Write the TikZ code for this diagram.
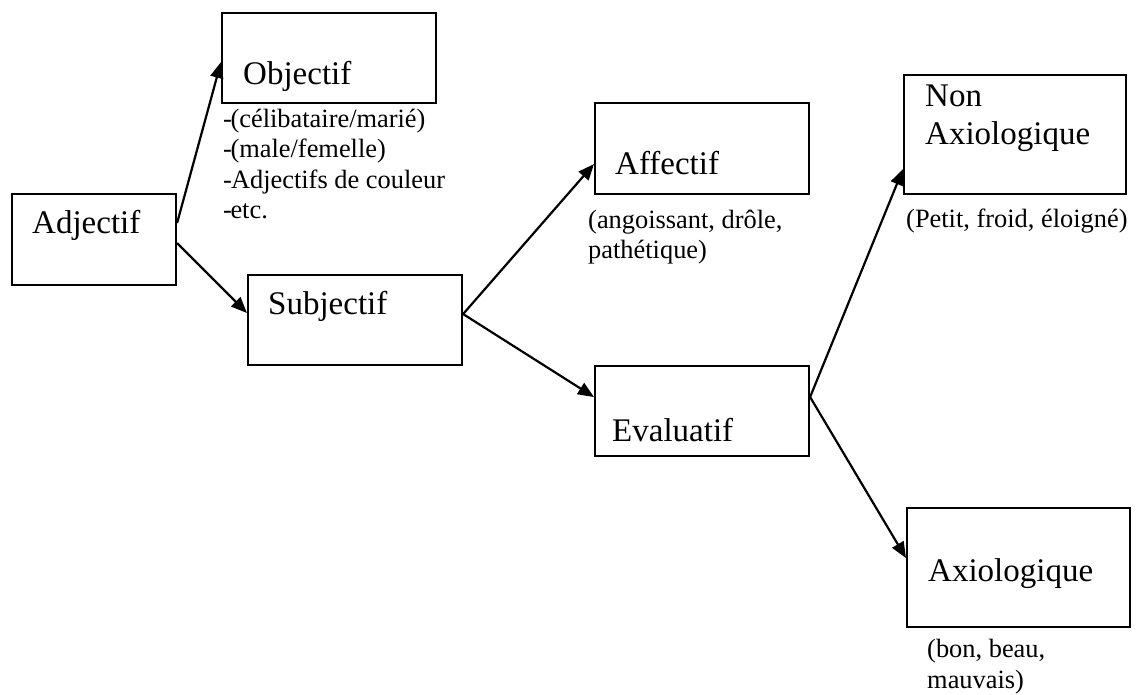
\documentclass[tikz,border=0pt]{standalone}
\usepackage{fontspec}
\setmainfont{Liberation Serif}
\usetikzlibrary{arrows.meta,calc}
\begin{document}
\begin{tikzpicture}[x=1pt,y=-1pt,
  box/.style={draw,line width=2.1pt,inner sep=0pt,anchor=north west},
  big/.style={inner sep=0pt,anchor=base west,font=\fontsize{33}{38}\selectfont,align=left},
  small/.style={inner sep=0pt,anchor=base west,font=\fontsize{26.4}{30}\selectfont,align=left},
  conn/.style={line width=2.2pt,-{Triangle[length=16pt,width=13pt]}}]
\useasboundingbox (0,0) rectangle (1139,695);
% boxes
\node[box,minimum width=164pt,minimum height=91pt] (adj) at (11,193) {};
\node[box,minimum width=214pt,minimum height=90pt] (obj) at (221,12) {};
\node[box,minimum width=214pt,minimum height=90pt] (subj) at (247,274) {};
\node[box,minimum width=214pt,minimum height=91pt] (aff) at (594,102) {};
\node[box,minimum width=214pt,minimum height=90pt] (eval) at (594,365) {};
\node[box,minimum width=222pt,minimum height=119pt] (nonax) at (903,74) {};
\node[box,minimum width=223pt,minimum height=119pt] (ax) at (906,507) {};
% box labels
\node[big] (tadj) at (32,233) {Adjectif};
\node[big] (tobj) at (243,85) {Objectif};
\node[big] (tsubj) at (268,314) {Subjectif};
\node[big] (taff) at (615,175) {Affectif};
\node[big] (teval) at (612,441) {Evaluatif};
\node[big] (tnon) at (925,107) {Non};
\node[big] (tnonax) at (925,145) {Axiologique};
\node[big] (tax) at (928,581) {Axiologique};
% annotations
\node[small] (l1) at (223,128) {-\kern-1.5pt(célibataire/marié)};
\node[small] (l2) at (223,158) {-\kern-1.5pt(male/femelle)};
\node[small] (l3) at (223,188) {-\kern-1pt Adjectifs de couleur};
\node[small] (l4) at (223,218) {-\kern-1.5pt etc.};
\node[small] (aa1) at (588,228) {(angoissant, drôle,};
\node[small] (aa2) at (588,258) {pathétique)};
\node[small] (pa) at (906,227) {(Petit, froid, éloigné)};
\node[small] (b1) at (927,657) {(bon, beau,};
\node[small] (b2) at (927,688) {mauvais)};
% connectors
\draw[conn] ([yshift=16.5pt]adj.east) -- ([yshift=-4pt]obj.west);
\draw[conn] ([yshift=-3.5pt]adj.east) -- ([yshift=7pt]subj.west);
\draw[conn] ([yshift=6pt]subj.east) -- ([yshift=-15.5pt]aff.west);
\draw[conn] ([yshift=6pt]subj.east) -- ([yshift=14pt]eval.west);
\draw[conn] ([yshift=14pt]eval.east) -- ([yshift=-34.5pt]nonax.west);
\draw[conn] ([yshift=14pt]eval.east) -- ([yshift=9.5pt]ax.west);
\end{tikzpicture}
\end{document}
